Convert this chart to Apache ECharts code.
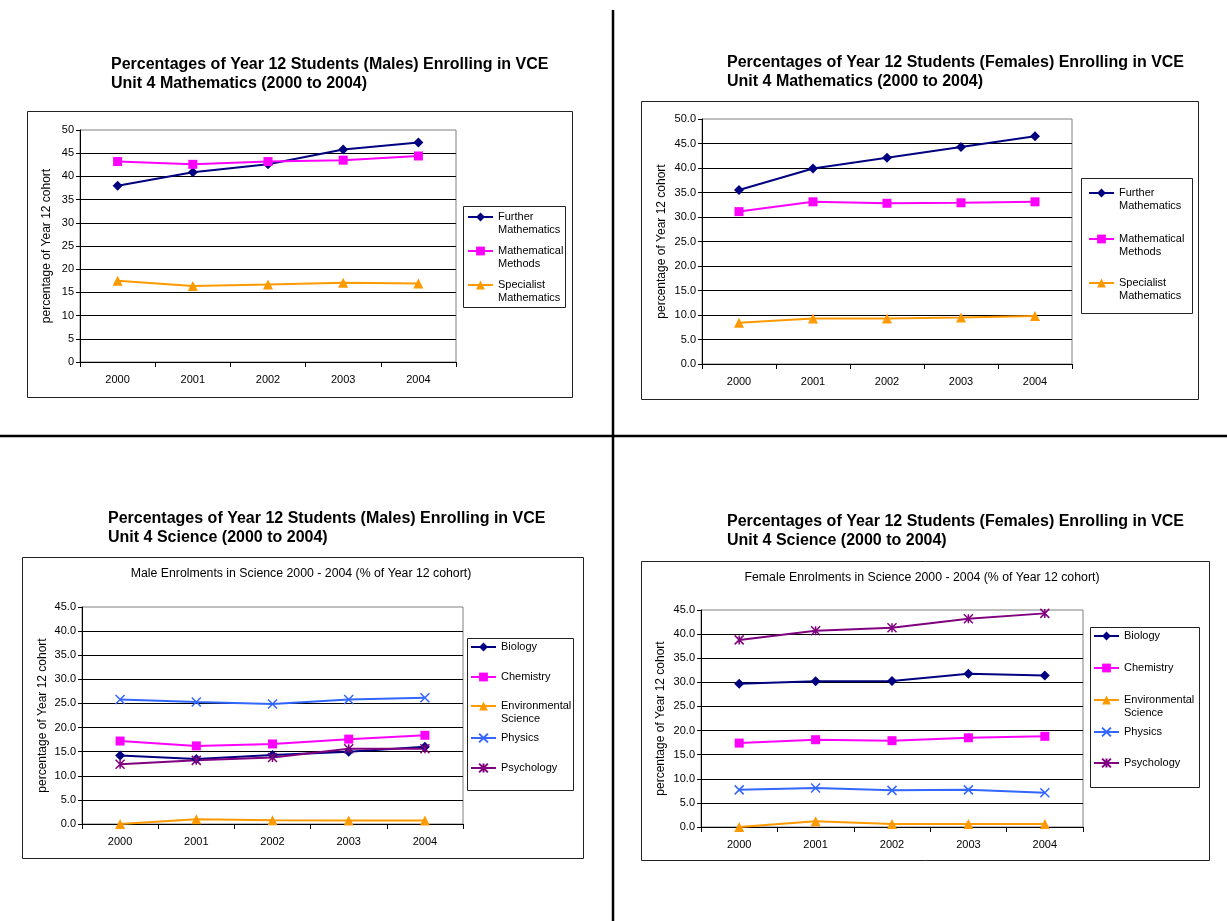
<!DOCTYPE html>
<html>
<head>
<meta charset="utf-8">
<title>VCE Unit 4 Enrolments 2000-2004</title>
<script src="https://cdn.jsdelivr.net/npm/echarts@6/dist/echarts.min.js"></script>
<style>
  html, body { margin: 0; padding: 0; background: #fff; }
  #chart { width: 1227px; height: 921px; }
</style>
</head>
<body>
<div id="chart"></div>
<script>
// ---- data (percentage of Year 12 cohort) ----
const years = ['2000', '2001', '2002', '2003', '2004'];

const mathSubjects = ['Further Mathematics', 'Mathematical Methods', 'Specialist Mathematics'];
const mathLegendLabels = ['Further\nMathematics', 'Mathematical\nMethods', 'Specialist\nMathematics'];

const maleFurther = [38.0, 40.9, 42.6, 45.8, 47.3];
const maleMethods = [43.2, 42.6, 43.2, 43.5, 44.4];
const maleSpecialist = [17.5, 16.4, 16.7, 17.1, 16.9];

const femaleFurther = [35.5, 39.9, 42.1, 44.3, 46.5];
const femaleMethods = [31.1, 33.1, 32.8, 32.9, 33.1];
const femaleSpecialist = [8.4, 9.3, 9.3, 9.5, 9.8];

const scienceSubjects = ['Biology', 'Chemistry', 'Environmental Science', 'Physics', 'Psychology'];
const scienceLegendLabels = ['Biology', 'Chemistry', 'Environmental\nScience', 'Physics', 'Psychology'];

const maleBiology = [14.2, 13.5, 14.3, 15.0, 16.0];
const maleChemistry = [17.2, 16.2, 16.6, 17.6, 18.4];
const maleEnvSci = [0.0, 1.0, 0.8, 0.7, 0.7];
const malePhysics = [25.8, 25.3, 24.9, 25.8, 26.2];
const malePsychology = [12.4, 13.2, 13.8, 15.6, 15.6];

const femaleBiology = [29.7, 30.2, 30.3, 31.8, 31.4];
const femaleChemistry = [17.4, 18.1, 17.9, 18.5, 18.8];
const femaleEnvSci = [0.0, 1.2, 0.6, 0.6, 0.6];
const femalePhysics = [7.7, 8.1, 7.6, 7.7, 7.1];
const femalePsychology = [38.8, 40.7, 41.3, 43.2, 44.3];

const mathAxisMax = 50;
const scienceAxisMax = 45;
const axisStep = 5;

const chartTitles = [
  'Percentages of Year 12 Students (Males) Enrolling in VCE\nUnit 4 Mathematics (2000 to 2004)',
  'Percentages of Year 12 Students (Females) Enrolling in VCE\nUnit 4 Mathematics (2000 to 2004)',
  'Percentages of Year 12 Students (Males) Enrolling in VCE\nUnit 4 Science (2000 to 2004)',
  'Percentages of Year 12 Students (Females) Enrolling in VCE\nUnit 4 Science (2000 to 2004)'
];
const innerTitles = [
  'Male Enrolments in Science 2000 - 2004 (% of Year 12 cohort)',
  'Female Enrolments in Science 2000 - 2004 (% of Year 12 cohort)'
];
const yAxisTitle = 'percentage of Year 12 cohort';

// ---- styles ----
const FONT = '"Liberation Sans", Arial, sans-serif';
const subjectStyle = {
  'Further Mathematics':   { color: '#000080', symbol: 'diamond', size: 10 },
  'Mathematical Methods':  { color: '#FF00FF', symbol: 'rect', size: 9 },
  'Specialist Mathematics':{ color: '#FF9900', symbol: 'triangle', size: 10 },
  'Biology':               { color: '#000080', symbol: 'diamond', size: 10 },
  'Chemistry':             { color: '#FF00FF', symbol: 'rect', size: 9 },
  'Environmental Science': { color: '#FF9900', symbol: 'triangle', size: 10 },
  'Physics':               { color: '#3366FF', symbol: 'path://M0,0L10,10M0,10L10,0', size: 9, stroke: true },
  'Psychology':            { color: '#800080', symbol: 'path://M0,0L10,10M0,10L10,0M5,0L5,10', size: 9, stroke: true }
};

function lineSeries(name, data, idx) {
  const s = subjectStyle[name];
  return {
    type: 'line',
    name: name,
    data: data,
    xAxisIndex: idx,
    yAxisIndex: idx,
    symbol: s.symbol,
    symbolSize: s.size,
    showAllSymbol: true,
    lineStyle: { color: s.color, width: 2 },
    itemStyle: s.stroke
      ? { color: s.color, borderColor: s.color, borderWidth: 1.5 }
      : { color: s.color },
    emphasis: { disabled: true },
    animation: false
  };
}

// plot areas
const grids = [
  { left: 80,  top: 130, width: 376, height: 232 },
  { left: 702, top: 119, width: 370, height: 245 },
  { left: 82,  top: 607, width: 381, height: 217 },
  { left: 701, top: 610, width: 382, height: 217 }
];

function xAxis(idx) {
  return {
    type: 'category',
    gridIndex: idx,
    data: years,
    boundaryGap: true,
    axisLine: { lineStyle: { color: '#000', width: 1 } },
    axisTick: { show: true, length: 5, lineStyle: { color: '#000' } },
    axisLabel: { color: '#000', fontSize: 11, fontFamily: FONT, margin: 12, interval: 0 },
    splitLine: { show: false }
  };
}

function yAxis(idx, max, decimals, nameGap) {
  return {
    type: 'value',
    gridIndex: idx,
    min: 0,
    max: max,
    interval: axisStep,
    name: yAxisTitle,
    nameLocation: 'middle',
    nameRotate: 90,
    nameGap: nameGap,
    nameTextStyle: { color: '#000', fontSize: 12, fontFamily: FONT },
    axisLine: { show: true, lineStyle: { color: '#000', width: 1 } },
    axisTick: { show: true, length: 4, lineStyle: { color: '#000' } },
    axisLabel: {
      color: '#000', fontSize: 11, fontFamily: FONT, margin: 6,
      formatter: v => v.toFixed(decimals)
    },
    splitLine: { show: true, showMaxLine: false, lineStyle: { color: '#000', width: 1 } }
  };
}

// one legend block per entry so each label sits where it belongs in its box;
// wrapped labels get a blank lead line so their first line sits level with the key
function legendItem(name, label, left, iconCenterY) {
  const twoLine = label.indexOf('\n') >= 0;
  return {
    show: true,
    orient: 'vertical',
    left: left,
    top: twoLine ? iconCenterY - 19.5 : iconCenterY - 6.5,
    padding: 0,
    itemWidth: 25,
    itemHeight: 11,
    itemGap: 0,
    selectedMode: false,
    data: [name],
    formatter: () => (twoLine ? '\n' + label : label),
    textStyle: { color: '#000', fontSize: 11, lineHeight: 13, fontFamily: FONT }
  };
}

const legends = [];
const mathLegendRows = [[217, 251, 285], [193, 239, 283]];
const mathLegendLeft = [467, 1088];
const sciLegendRows = [[647, 677, 706, 738, 768], [636, 668, 700, 732, 763]];
const sciLegendLeft = [470, 1093];
for (let c = 0; c < 2; c++) {
  mathSubjects.forEach((n, i) => legends.push(legendItem(n, mathLegendLabels[i], mathLegendLeft[c], mathLegendRows[c][i])));
  scienceSubjects.forEach((n, i) => legends.push(legendItem(n, scienceLegendLabels[i], sciLegendLeft[c], sciLegendRows[c][i])));
}

const series = [
  lineSeries('Further Mathematics', maleFurther, 0),
  lineSeries('Mathematical Methods', maleMethods, 0),
  lineSeries('Specialist Mathematics', maleSpecialist, 0),
  lineSeries('Further Mathematics', femaleFurther, 1),
  lineSeries('Mathematical Methods', femaleMethods, 1),
  lineSeries('Specialist Mathematics', femaleSpecialist, 1),
  lineSeries('Biology', maleBiology, 2),
  lineSeries('Chemistry', maleChemistry, 2),
  lineSeries('Environmental Science', maleEnvSci, 2),
  lineSeries('Physics', malePhysics, 2),
  lineSeries('Psychology', malePsychology, 2),
  lineSeries('Biology', femaleBiology, 3),
  lineSeries('Chemistry', femaleChemistry, 3),
  lineSeries('Environmental Science', femaleEnvSci, 3),
  lineSeries('Physics', femalePhysics, 3),
  lineSeries('Psychology', femalePsychology, 3)
];

const titleStyle = { color: '#000', fontSize: 16, fontWeight: 'bold', lineHeight: 19, fontFamily: FONT };
const innerTitleStyle = { color: '#000', fontSize: 12.3, fontWeight: 'normal', lineHeight: 14, fontFamily: FONT };

function frame(x1, y1, x2, y2) {
  return {
    type: 'rect', silent: true, z: 0,
    shape: { x: x1 + 0.5, y: y1 + 0.5, width: x2 - x1, height: y2 - y1 },
    style: { fill: null, stroke: '#222', lineWidth: 1 }
  };
}
function rule(x1, y1, x2, y2) {
  return {
    type: 'line', silent: true, z: 0,
    shape: { x1: x1, y1: y1, x2: x2, y2: y2 },
    style: { stroke: '#000', lineWidth: 2.5 }
  };
}

const option = {
  backgroundColor: '#fff',
  animation: false,
  title: [
    { text: chartTitles[0], left: 111, top: 55, padding: 0, textStyle: titleStyle },
    { text: chartTitles[1], left: 727, top: 53, padding: 0, textStyle: titleStyle },
    { text: chartTitles[2], left: 108, top: 509, padding: 0, textStyle: titleStyle },
    { text: chartTitles[3], left: 727, top: 512, padding: 0, textStyle: titleStyle },
    { text: innerTitles[0], left: 301, top: 567, textAlign: 'center', padding: 0, textStyle: innerTitleStyle },
    { text: innerTitles[1], left: 922, top: 571, textAlign: 'center', padding: 0, textStyle: innerTitleStyle }
  ],
  legend: legends,
  grid: grids.map(g => Object.assign({ show: true, borderColor: '#808080', borderWidth: 1, backgroundColor: 'transparent', containLabel: false }, g)),
  xAxis: [xAxis(0), xAxis(1), xAxis(2), xAxis(3)],
  yAxis: [
    yAxis(0, mathAxisMax, 0, 27),
    yAxis(1, mathAxisMax, 1, 34),
    yAxis(2, scienceAxisMax, 1, 33),
    yAxis(3, scienceAxisMax, 1, 34)
  ],
  series: series,
  graphic: [
    // quadrant dividers
    rule(613, 10, 613, 921),
    rule(0, 436, 1227, 436),
    // chart frames
    frame(27, 111, 572, 397),
    frame(641, 101, 1198, 399),
    frame(22, 557, 583, 858),
    frame(641, 561, 1209, 860),
    // legend frames
    frame(463, 206, 565, 307),
    frame(1081, 178, 1192, 313),
    frame(467, 638, 573, 790),
    frame(1090, 627, 1199, 787)
  ]
};

const chart = echarts.init(document.getElementById('chart'), null, { renderer: 'canvas' });
chart.setOption(option);
</script>
</body>
</html>
